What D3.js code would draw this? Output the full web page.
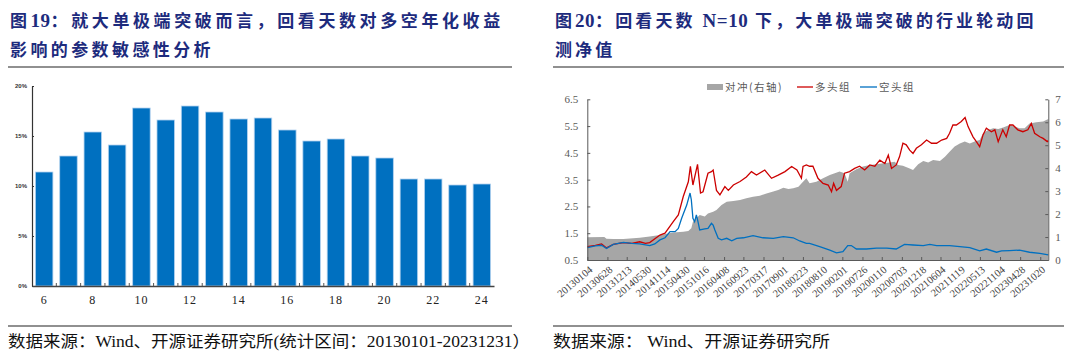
<!DOCTYPE html>
<html>
<head>
<meta charset="utf-8">
<script src="https://cdn.jsdelivr.net/npm/d3@7/dist/d3.min.js"></script>
<style>
body { margin: 0; background: #fff; }
svg { display: block; }
</style>
</head>
<body>
<div id="chart"></div>
<script>
// Fig.19 data: look-back days vs long-short annualized return (%)
const lookbackDays = [6, 7, 8, 9, 10, 11, 12, 13, 14, 15, 16, 17, 18, 19, 20, 21, 22, 23, 24];
const longShortReturn = [11.4, 13.0, 15.4, 14.1, 17.8, 16.6, 18.0, 17.4, 16.7, 16.8, 15.6, 14.5, 14.7, 13.0, 12.8, 10.7, 10.7, 10.1, 10.2];
const pctTicks = [0, 5, 10, 15, 20];

// Fig.20 data: NAV of long group, short group and hedge (right axis)
const dateTicks = ["20130104", "20130628", "20131213", "20140530", "20141114", "20150430", "20151016", "20160408",
  "20160923", "20170317", "20170901", "20180223", "20180810", "20190201", "20190726", "20200110", "20200703",
  "20201218", "20210604", "20211119", "20220513", "20221104", "20230428", "20231020"];
const leftTicks = [0.5, 1.5, 2.5, 3.5, 4.5, 5.5, 6.5];
const rightTicks = [0, 1, 2, 3, 4, 5, 6, 7];

const longNav = [
  ["2013-01-04", 1.00], ["2013-03-15", 1.05], ["2013-05-08", 1.10], ["2013-06-20", 0.95], ["2013-08-18", 1.08],
  ["2013-11-14", 1.15], ["2014-01-26", 1.12], ["2014-04-05", 1.18], ["2014-05-25", 1.12], ["2014-07-01", 1.15],
  ["2014-09-28", 1.43], ["2014-11-11", 1.50], ["2015-01-22", 1.93], ["2015-03-07", 2.18], ["2015-04-19", 2.87],
  ["2015-06-02", 3.42], ["2015-06-20", 4.00], ["2015-07-12", 3.30], ["2015-08-21", 4.07], ["2015-09-16", 3.00],
  ["2015-10-08", 3.05], ["2015-11-20", 3.74], ["2015-12-20", 3.80], ["2016-01-04", 3.86], ["2016-02-02", 3.10],
  ["2016-03-03", 2.93], ["2016-04-15", 3.24], ["2016-05-15", 3.10], ["2016-06-28", 3.30], ["2016-08-25", 3.43],
  ["2016-10-19", 3.60], ["2016-12-02", 3.80], ["2017-01-15", 3.67], ["2017-03-28", 3.86], ["2017-05-26", 3.55],
  ["2017-07-23", 3.67], ["2017-09-20", 3.80], ["2017-11-17", 3.99], ["2018-01-02", 3.86], ["2018-02-10", 3.55],
  ["2018-02-24", 3.99], ["2018-03-25", 4.05], ["2018-04-22", 4.00], ["2018-05-21", 4.00], ["2018-07-04", 3.55],
  ["2018-08-17", 3.36], ["2018-10-01", 3.30], ["2018-10-30", 3.05], ["2018-11-17", 3.36], ["2018-12-12", 3.10],
  ["2019-01-22", 3.24], ["2019-02-20", 3.74], ["2019-04-05", 3.80], ["2019-05-19", 3.92], ["2019-07-01", 4.00],
  ["2019-08-14", 3.86], ["2019-09-28", 4.05], ["2019-11-11", 4.00], ["2019-12-24", 4.23], ["2020-02-06", 4.10],
  ["2020-03-07", 4.42], ["2020-04-04", 3.92], ["2020-05-15", 4.05], ["2020-06-13", 4.36], ["2020-07-12", 4.86],
  ["2020-08-10", 4.80], ["2020-09-09", 4.60], ["2020-10-08", 4.48], ["2020-11-06", 4.67], ["2020-12-20", 4.80],
  ["2021-02-03", 4.98], ["2021-03-18", 4.86], ["2021-05-01", 4.86], ["2021-06-14", 4.98], ["2021-07-28", 5.04],
  ["2021-08-22", 5.23], ["2021-09-20", 5.54], ["2021-10-20", 5.54], ["2021-12-02", 5.67], ["2022-01-04", 5.82],
  ["2022-01-30", 5.48], ["2022-03-14", 5.10], ["2022-04-12", 4.92], ["2022-05-11", 4.73], ["2022-06-09", 5.17],
  ["2022-07-08", 5.42], ["2022-08-21", 5.29], ["2022-09-20", 5.36], ["2022-10-19", 4.92], ["2022-11-28", 5.36],
  ["2022-12-28", 5.10], ["2023-01-26", 5.54], ["2023-02-24", 5.54], ["2023-04-08", 5.36], ["2023-05-22", 5.29],
  ["2023-07-04", 5.36], ["2023-08-03", 5.60], ["2023-09-01", 5.23], ["2023-10-16", 5.10], ["2023-11-14", 5.04],
  ["2023-12-20", 4.92], ["2023-12-29", 4.95]
];

const shortNav = [
  ["2013-01-04", 0.96], ["2013-03-15", 1.03], ["2013-05-08", 1.05], ["2013-06-20", 0.93], ["2013-08-18", 1.08],
  ["2013-11-14", 1.16], ["2014-01-26", 1.12], ["2014-04-05", 1.10], ["2014-07-01", 1.04], ["2014-08-14", 1.10],
  ["2014-09-28", 1.25], ["2014-11-11", 1.33], ["2014-12-25", 1.56], ["2015-02-07", 1.56], ["2015-03-07", 1.68],
  ["2015-04-05", 2.06], ["2015-05-19", 2.55], ["2015-06-17", 3.00], ["2015-06-28", 2.75], ["2015-07-12", 2.06],
  ["2015-07-27", 1.93], ["2015-08-11", 2.18], ["2015-08-25", 1.93], ["2015-09-09", 1.62], ["2015-10-23", 1.66],
  ["2015-11-20", 1.68], ["2015-12-20", 1.87], ["2016-01-04", 1.80], ["2016-01-19", 1.62], ["2016-02-17", 1.31],
  ["2016-03-17", 1.25], ["2016-05-01", 1.31], ["2016-06-14", 1.22], ["2016-07-27", 1.31], ["2016-09-24", 1.33],
  ["2016-12-16", 1.41], ["2017-03-13", 1.33], ["2017-06-10", 1.31], ["2017-09-06", 1.37], ["2017-12-01", 1.33],
  ["2018-01-26", 1.21], ["2018-03-25", 1.12], ["2018-04-22", 1.12], ["2018-07-19", 1.00], ["2018-10-15", 0.87],
  ["2018-12-12", 0.77], ["2019-02-06", 0.81], ["2019-03-20", 1.04], ["2019-04-20", 1.04], ["2019-06-03", 0.91],
  ["2019-08-30", 0.91], ["2019-11-25", 0.94], ["2020-02-22", 0.94], ["2020-05-15", 0.91], ["2020-07-26", 1.08],
  ["2020-10-08", 1.06], ["2021-01-05", 1.04], ["2021-03-03", 1.08], ["2021-05-01", 1.04], ["2021-08-22", 1.04],
  ["2021-11-19", 1.00], ["2022-02-14", 0.96], ["2022-05-11", 0.84], ["2022-07-08", 0.91], ["2022-10-05", 0.79],
  ["2022-11-17", 0.84], ["2023-01-26", 0.85], ["2023-04-23", 0.87], ["2023-07-19", 0.79], ["2023-10-16", 0.75],
  ["2023-12-29", 0.69]
];

const hedgeNav = [
  ["2013-01-04", 0.99], ["2013-06-01", 1.00], ["2013-06-20", 0.93], ["2013-08-18", 0.91], ["2013-11-14", 0.91],
  ["2014-04-05", 0.97], ["2014-07-01", 1.02], ["2014-09-28", 1.09], ["2015-01-22", 1.20], ["2015-04-19", 1.23],
  ["2015-06-02", 1.26], ["2015-06-28", 1.38], ["2015-07-12", 1.67], ["2015-08-11", 1.82], ["2015-09-09", 1.96],
  ["2015-10-23", 1.89], ["2015-11-20", 2.03], ["2016-01-04", 2.10], ["2016-02-02", 2.18], ["2016-03-17", 2.40],
  ["2016-05-01", 2.54], ["2016-06-28", 2.57], ["2016-08-25", 2.61], ["2016-10-19", 2.69], ["2016-12-16", 2.76],
  ["2017-02-13", 2.80], ["2017-04-12", 2.90], ["2017-06-10", 2.98], ["2017-07-23", 3.05], ["2017-09-06", 3.15],
  ["2017-10-20", 3.09], ["2017-12-01", 3.12], ["2018-01-15", 3.19], ["2018-02-24", 3.41], ["2018-03-25", 3.56],
  ["2018-04-22", 3.34], ["2018-06-20", 3.41], ["2018-08-17", 3.56], ["2018-10-15", 3.70], ["2018-11-27", 3.78],
  ["2019-01-08", 3.85], ["2019-02-20", 3.78], ["2019-03-20", 3.41], ["2019-04-05", 3.78], ["2019-06-03", 3.95],
  ["2019-07-31", 4.07], ["2019-09-28", 4.14], ["2019-11-25", 4.17], ["2020-01-22", 4.21], ["2020-03-20", 4.25],
  ["2020-05-01", 4.28], ["2020-05-30", 4.14], ["2020-07-12", 4.11], ["2020-09-09", 3.99], ["2020-10-08", 3.92],
  ["2020-11-22", 4.17], ["2021-01-05", 4.31], ["2021-02-17", 4.25], ["2021-04-01", 4.36], ["2021-05-30", 4.31],
  ["2021-07-13", 4.50], ["2021-08-22", 4.72], ["2021-10-05", 4.94], ["2021-11-19", 5.08], ["2022-01-01", 5.16],
  ["2022-02-14", 5.08], ["2022-03-28", 5.16], ["2022-05-11", 5.23], ["2022-06-09", 5.52], ["2022-07-23", 5.66],
  ["2022-09-06", 5.74], ["2022-10-19", 5.71], ["2022-12-01", 5.77], ["2023-01-26", 5.88], ["2023-03-11", 5.81],
  ["2023-04-23", 5.74], ["2023-06-06", 5.74], ["2023-07-19", 5.95], ["2023-09-16", 6.00], ["2023-11-14", 6.03],
  ["2023-12-29", 6.14]
];

const W = 1080, H = 362;
const navy = "#1d2b7d";
const cjk = "'Noto Sans CJK SC', sans-serif";
const serifMix = "'Liberation Serif', 'Noto Sans CJK SC', serif";

const svg = d3.select("#chart").append("svg")
  .attr("width", W).attr("height", H);

// ---------- titles and rules ----------
function title(x, y, parts, spacing) {
  const t = svg.append("text").attr("x", x).attr("y", y)
    .attr("fill", navy).attr("font-size", 17).attr("font-weight", "bold")
    .attr("letter-spacing", spacing).attr("font-family", cjk);
  parts.forEach(p => {
    t.append("tspan").attr("font-family", p.latin ? "'Liberation Serif', serif" : cjk)
      .attr("font-size", p.latin ? 19 : 17)
      .attr("letter-spacing", p.latin ? 0.5 : spacing).text(p.s);
  });
}
title(10, 27, [{s: "图"}, {s: "19", latin: true}, {s: "：就大单极端突破而言，回看天数对多空年化收益"}], 3.6);
title(10, 56, [{s: "影响的参数敏感性分析"}], 3.4);
title(555, 27, [{s: "图"}, {s: "20", latin: true}, {s: "：回看天数 "}, {s: "N=10", latin: true}, {s: " 下，大单极端突破的行业轮动回"}], 3.1);
title(555, 56, [{s: "测净值"}], 3.1);

const rules = [[8, 512, 67], [553, 1064, 67], [8, 512, 326], [553, 1064, 326]];
svg.selectAll("line.rule").data(rules).join("line").attr("class", "rule")
  .attr("x1", d => d[0]).attr("x2", d => d[1]).attr("y1", d => d[2]).attr("y2", d => d[2])
  .attr("stroke", "#222").attr("stroke-width", 1.2);

svg.append("text").attr("x", 8).attr("y", 347).attr("font-size", 16).attr("fill", "#111")
  .attr("font-family", serifMix).attr("textLength", 522).attr("lengthAdjust", "spacingAndGlyphs")
  .text("数据来源：Wind、开源证券研究所(统计区间：20130101-20231231）");
svg.append("text").attr("x", 553).attr("y", 347).attr("font-size", 16).attr("fill", "#111")
  .attr("font-family", serifMix).attr("textLength", 277).attr("lengthAdjust", "spacingAndGlyphs")
  .text("数据来源：  Wind、开源证券研究所");

// ---------- Fig.19 bar chart ----------
const xBand = d3.scaleBand().domain(lookbackDays).range([32, 494]).paddingInner(0.28).paddingOuter(0.14);
const yBar = d3.scaleLinear().domain([0, 20]).range([286, 86]);

svg.append("g").selectAll("rect").data(lookbackDays).join("rect")
  .attr("x", d => xBand(d))
  .attr("y", (d, i) => yBar(longShortReturn[i]))
  .attr("width", xBand.bandwidth())
  .attr("height", (d, i) => yBar(0) - yBar(longShortReturn[i]))
  .attr("fill", "#0070c0")
  .attr("stroke", "#b4d3ef").attr("stroke-width", 0.8);

const yAxisBar = svg.append("g").attr("transform", "translate(32,0)")
  .call(d3.axisLeft(yBar).tickValues(pctTicks).tickFormat(d => d + "%").tickSize(-2).tickSizeOuter(0).tickPadding(5));
yAxisBar.select(".domain").attr("stroke", "#333").attr("stroke-width", 1.2);
yAxisBar.selectAll(".tick line").attr("stroke", "#333");
yAxisBar.selectAll("text").attr("font-size", 6).attr("font-weight", "bold")
  .attr("font-family", "'Liberation Sans', sans-serif").attr("fill", "#333");

const xAxisBar = svg.append("g").attr("transform", "translate(0,286)")
  .call(d3.axisBottom(xBand).tickValues(lookbackDays.filter(d => d % 2 === 0)).tickSize(0).tickPadding(9));
xAxisBar.select(".domain").attr("stroke", "#444").attr("stroke-width", 1.6);
xAxisBar.selectAll("text").attr("font-size", 12).attr("letter-spacing", 1)
  .attr("font-family", "'Liberation Serif', serif").attr("fill", "#222");

// small category separator ticks, pointing up
svg.append("g").selectAll("line").data(lookbackDays.slice(1)).join("line")
  .attr("x1", d => xBand(d) - xBand.step() * xBand.paddingInner() / 2)
  .attr("x2", d => xBand(d) - xBand.step() * xBand.paddingInner() / 2)
  .attr("y1", yBar(0)).attr("y2", yBar(0) - 3)
  .attr("stroke", "#555").attr("stroke-width", 1);

// ---------- Fig.20 NAV chart ----------
const parse = d3.timeParse("%Y-%m-%d");
const parseTick = d3.timeParse("%Y%m%d");
const fmtTick = d3.timeFormat("%Y%m%d");

const xT = d3.scaleTime().domain([parse("2013-01-04"), parse("2023-12-29")]).range([587.3, 1048.3]);
const yL = d3.scaleLinear().domain([0.5, 6.5]).range([260, 99.3]);
const yR = d3.scaleLinear().domain([0, 7]).range([260, 99.3]);

const hedgeArea = d3.area().x(d => xT(parse(d[0]))).y0(yR(0)).y1(d => yR(d[1]));
svg.append("path").datum(hedgeNav).attr("d", hedgeArea).attr("fill", "#a6a6a6");

const navLine = d3.line().x(d => xT(parse(d[0]))).y(d => yL(d[1]));
svg.append("path").datum(longNav).attr("d", navLine)
  .attr("fill", "none").attr("stroke", "#cc0000").attr("stroke-width", 1.3);
svg.append("path").datum(shortNav).attr("d", navLine)
  .attr("fill", "none").attr("stroke", "#0070c0").attr("stroke-width", 1.3);

function styleAxis(g) {
  g.select(".domain").attr("stroke", "#595959").attr("stroke-width", 1);
  g.selectAll(".tick line").attr("stroke", "#595959");
  g.selectAll("text").attr("font-family", "'Liberation Serif', serif").attr("fill", "#595959");
}

const axL = svg.append("g").attr("transform", "translate(587.3,0)")
  .call(d3.axisLeft(yL).tickValues(leftTicks).tickFormat(d3.format(".1f")).tickSize(-3).tickSizeOuter(0).tickPadding(9));
styleAxis(axL);
axL.selectAll("text").attr("font-size", 11);

const axR = svg.append("g").attr("transform", "translate(1048.3,0)")
  .call(d3.axisRight(yR).tickValues(rightTicks).tickFormat(d3.format("d")).tickSize(-3).tickSizeOuter(0).tickPadding(7));
styleAxis(axR);
axR.selectAll("text").attr("font-size", 11);

const axB = svg.append("g").attr("transform", "translate(0,260)")
  .call(d3.axisBottom(xT).tickValues(dateTicks.map(parseTick)).tickFormat(fmtTick).tickSize(-3).tickSizeOuter(0));
styleAxis(axB);
axB.selectAll("text").attr("font-size", 10.5).attr("fill", "#404040")
  .attr("text-anchor", "end").attr("x", 0).attr("y", 0).attr("dy", "0.35em")
  .attr("transform", "translate(3,8) rotate(-40)");

// legend
const legend = svg.append("g").attr("font-family", cjk).attr("font-size", 10.5).attr("fill", "#595959")
  .attr("letter-spacing", 1.5);
legend.append("rect").attr("x", 707).attr("y", 84).attr("width", 16).attr("height", 6).attr("fill", "#a6a6a6");
legend.append("text").attr("x", 725).attr("y", 91).text("对冲(右轴)");
legend.append("line").attr("x1", 797).attr("x2", 813).attr("y1", 87).attr("y2", 87)
  .attr("stroke", "#cc0000").attr("stroke-width", 1.3);
legend.append("text").attr("x", 815).attr("y", 91).text("多头组");
legend.append("line").attr("x1", 860).attr("x2", 877).attr("y1", 87).attr("y2", 87)
  .attr("stroke", "#0070c0").attr("stroke-width", 1.3);
legend.append("text").attr("x", 879).attr("y", 91).text("空头组");
</script>
</body>
</html>
